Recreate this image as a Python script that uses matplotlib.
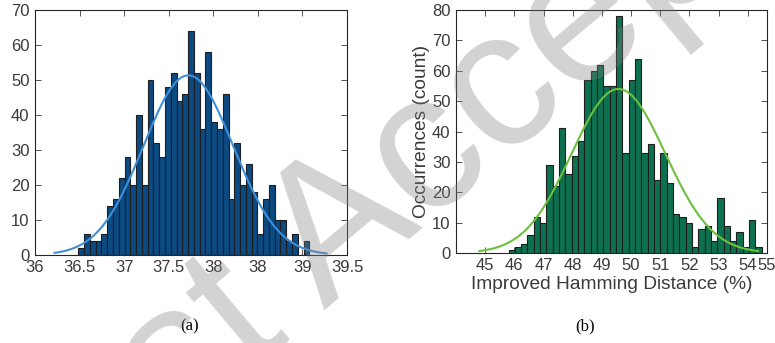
import numpy as np
import matplotlib.pyplot as plt

plt.rcParams['font.family'] = ['Liberation Sans', 'DejaVu Sans']

# (a) histogram, 40 bins
a_start = 36.486
a_width = 0.0648
a_counts = [2, 6, 4, 4, 6, 14, 16, 22, 28, 20, 40, 20, 50, 32, 28, 48, 52, 44, 46, 64,
            52, 36, 58, 38, 36, 46, 16, 32, 20, 26, 18, 6, 16, 20, 10, 10, 4, 6, 0, 4]
a_fit_mu, a_fit_sigma = 37.72, 0.5035
a_fit_range = (36.22, 39.27)
a_ticks = [36, 36.5, 37, 37.5, 38, 38.5, 39, 39.5]
a_ticklabels = ['36', '36.5', '37', '37.5', '38', '38', '39', '39.5']

# (b) histogram, 40 bins
b_start = 45.80
b_width = 0.2168
b_counts = [1, 2, 3, 6, 12, 10, 29, 22, 41, 26, 32, 37, 57, 60, 62, 55, 55, 78, 33, 57,
            64, 33, 36, 24, 33, 23, 13, 12, 10, 2, 8, 9, 4, 18, 9, 4, 7, 2, 11, 2]
b_fit_mu, b_fit_sigma = 49.57, 1.605
b_fit_range = (44.8, 54.35)
b_ticks = [45, 46, 47, 48, 49, 50, 51, 52, 53, 54, 54.65]
b_ticklabels = ['45', '46', '47', '48', '49', '50', '51', '52', '53', '54', '55']

txt = '#3a3a3a'


def draw_hist(ax, start, width, counts, mu, sigma, frange, face, line):
    counts = np.array(counts)
    edges = start + width * np.arange(len(counts))
    ax.bar(edges, counts, width=width, align='edge', color=face,
           edgecolor='#1e1e1e', linewidth=0.8, zorder=2)
    x = np.linspace(frange[0], frange[1], 300)
    y = counts.sum() * width / (sigma * np.sqrt(2 * np.pi)) * np.exp(-0.5 * ((x - mu) / sigma) ** 2)
    ax.plot(x, y, color=line, linewidth=1.5, zorder=3)
    ax.tick_params(direction='in', length=4, top=True, right=True,
                   labelsize=12, colors=txt, width=0.6)
    ax.tick_params(axis='x', pad=3.5)
    ax.tick_params(axis='y', pad=4)
    for s in ax.spines.values():
        s.set_color('#262626')
        s.set_linewidth(0.8)


fig = plt.figure(figsize=(7.75, 3.43), dpi=100)

ax1 = fig.add_axes([35 / 775, 88 / 343, 312 / 775, 245 / 343])
draw_hist(ax1, a_start, a_width, a_counts, a_fit_mu, a_fit_sigma, a_fit_range,
          '#0b4a82', '#3f8fd8')
ax1.set_xlim(36, 39.5)
ax1.set_ylim(0, 70)
ax1.set_yticks(range(0, 71, 10))
ax1.set_xticks(a_ticks)
ax1.set_xticklabels(a_ticklabels)

ax2 = fig.add_axes([456 / 775, 90 / 343, 310.7 / 775, 243 / 343])
draw_hist(ax2, b_start, b_width, b_counts, b_fit_mu, b_fit_sigma, b_fit_range,
          '#0d7150', '#6cc03c')
ax2.set_xlim(44, 54.65)
ax2.set_ylim(0, 80)
ax2.set_yticks(range(0, 81, 10))
ax2.set_xticks(b_ticks)
ax2.set_xticklabels(b_ticklabels)
ax2.set_xlabel('Improved Hamming Distance (%)', fontsize=13.8, color=txt, labelpad=2)
ax2.set_ylabel('Occurrences (count)', fontsize=13.8, color=txt, labelpad=1)

fig.text(190 / 775, 1 - 326 / 343, '(a)', fontsize=12, family='Liberation Serif',
         ha='center', va='center')
fig.text(585 / 775, 1 - 326 / 343, '(b)', fontsize=12, family='Liberation Serif',
         ha='center', va='center')

# watermark
fig.text(450 / 775, 1 - 140 / 343, 'Just Accepted', fontsize=140, color='gray',
         alpha=0.35, rotation=40, ha='center', va='center', zorder=10)

fig.savefig('out.png', dpi=100)
